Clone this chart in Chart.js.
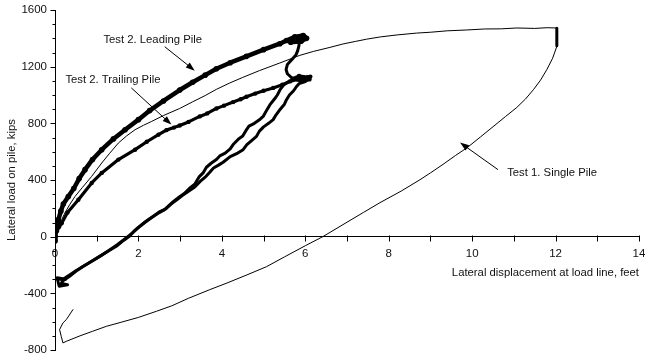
<!DOCTYPE html>
<html>
<head>
<meta charset="utf-8">
<script src="https://cdn.jsdelivr.net/npm/chart.js@4.4.0/dist/chart.umd.min.js"></script>
<style>
  html, body { margin: 0; padding: 0; background: #fff; }
</style>
</head>
<body>
<canvas id="pileChart" width="645" height="360"></canvas>
<script>
// lateral displacement (ft) vs lateral load (kips)
const xTicks = [0, 2, 4, 6, 8, 10, 12, 14];
const yTicks = [-800, -400, 0, 400, 800, 1200, 1600];

const singlePileLoad = [
  [0, 0], [0.04, 50], [0.1, 90], [0.16, 120], [0.25, 175], [0.35, 225], [0.48, 284],
  [0.65, 345], [0.88, 426], [1.12, 520], [1.3, 585], [1.52, 661], [1.72, 712],
  [1.92, 755], [2.12, 786], [2.32, 814], [2.6, 855], [2.99, 905], [3.3, 952],
  [3.6, 996], [3.87, 1040], [4.19, 1085], [4.5, 1124], [4.9, 1172], [5.39, 1226],
  [5.87, 1280], [6.2, 1308], [6.59, 1336], [6.9, 1360], [7.2, 1378], [7.47, 1394],
  [7.8, 1410], [8.2, 1424], [8.67, 1437], [9.0, 1443], [9.4, 1453], [9.87, 1459],
  [10.3, 1466], [10.7, 1467], [11.07, 1473], [11.5, 1470], [11.8, 1475], [12.02, 1473]
];
const singlePileHold = [[12.03, 1472], [12.03, 1348]];
const singlePileUnload = [
  [12.03, 1343], [11.93, 1260], [11.79, 1179], [11.64, 1105], [11.47, 1038],
  [11.28, 972], [11.07, 912], [10.8, 848], [10.5, 776], [10.2, 704], [9.88, 628],
  [9.6, 573], [9.3, 510], [9.0, 450], [8.75, 402], [8.3, 322], [7.79, 240],
  [7.4, 172], [7.0, 102], [6.42, 0], [6.0, -64], [5.5, -143], [5.07, -212],
  [4.6, -270], [4.1, -330], [3.71, -374], [3.2, -435], [2.8, -488], [2.43, -527],
  [2.0, -570], [1.6, -603], [1.23, -633], [0.9, -668], [0.6, -700], [0.27, -739],
  [0.19, -750], [0.15, -704], [0.11, -656], [0.19, -609], [0.27, -586], [0.43, -515]
];

const leadingPileLoad = [
  [0, -30], [0, 0], [0.02, 50], [0.05, 90], [0.08, 120], [0.14, 180], [0.2, 230], [0.32, 284],
  [0.45, 340], [0.58, 410], [0.72, 473], [0.9, 545], [1.12, 614], [1.4, 690],
  [1.68, 755], [2.0, 826], [2.27, 890], [2.6, 958], [2.99, 1035], [3.3, 1090],
  [3.6, 1140], [3.87, 1185], [4.2, 1228], [4.59, 1273], [5.0, 1320], [5.39, 1362],
  [5.55, 1385], [5.75, 1410], [5.95, 1420], [6.03, 1400], [5.9, 1380], [5.65, 1372],
  [5.8, 1395], [5.98, 1405], [5.85, 1390]
];
const leadingPileUnload = [
  [5.85, 1390], [5.85, 1350], [5.82, 1315], [5.78, 1285], [5.68, 1250], [5.57, 1215],
  [5.54, 1180], [5.57, 1150], [5.68, 1120], [5.7, 1105], [5.58, 1090], [5.48, 1070],
  [5.4, 1040], [5.33, 1000], [5.27, 975], [5.15, 930], [5.05, 880], [4.99, 849],
  [4.9, 825], [4.78, 800], [4.65, 780], [4.58, 750], [4.5, 710], [4.4, 690],
  [4.27, 650], [4.2, 620], [4.08, 590], [3.95, 570], [3.87, 545], [3.75, 520],
  [3.63, 490], [3.55, 450], [3.45, 420], [3.35, 370], [3.22, 340], [3.1, 305],
  [2.98, 280], [2.85, 250], [2.75, 225], [2.62, 190], [2.5, 175], [2.35, 143],
  [2.2, 112], [2.03, 73], [1.9, 40], [1.79, 5], [1.65, -25], [1.47, -68],
  [1.3, -98], [1.07, -139], [0.87, -175], [0.67, -210], [0.5, -245], [0.35, -280],
  [0.22, -305], [0.12, -300]
];

const trailingPileLoad = [
  [0, 0], [0.05, 40], [0.1, 70], [0.16, 95], [0.3, 170], [0.56, 261], [0.88, 379],
  [1.12, 450], [1.52, 544], [1.92, 614], [2.2, 670], [2.48, 720], [2.67, 752],
  [2.85, 770], [2.99, 785], [3.2, 810], [3.47, 849], [3.65, 870], [3.87, 905],
  [4.05, 925], [4.27, 950], [4.45, 970], [4.59, 988], [4.8, 1010], [5.0, 1030],
  [5.23, 1050], [5.45, 1072], [5.63, 1096], [5.8, 1110], [5.95, 1125], [6.12, 1130],
  [6.1, 1110], [5.9, 1100], [5.7, 1115], [5.85, 1135], [6.05, 1125]
];
const trailingPileUnload = [
  [6.1, 1115], [6.0, 1095], [5.85, 1080], [5.79, 1060], [5.72, 1030], [5.62, 1000],
  [5.55, 967], [5.5, 935], [5.4, 900], [5.3, 860], [5.23, 826], [5.12, 800],
  [5.0, 775], [4.9, 745], [4.83, 708], [4.72, 680], [4.6, 650], [4.51, 614],
  [4.38, 590], [4.2, 565], [4.03, 525], [3.92, 505], [3.8, 485], [3.71, 455],
  [3.6, 420], [3.48, 390], [3.35, 350], [3.2, 320], [3.05, 290], [2.92, 260],
  [2.78, 230], [2.65, 195], [2.5, 170], [2.32, 135], [2.15, 100], [2.0, 65],
  [1.85, 25], [1.7, -10], [1.5, -55], [1.3, -95], [1.1, -135], [0.9, -170],
  [0.7, -205], [0.5, -240], [0.35, -270], [0.22, -295], [0.15, -330], [0.3, -340],
  [0.1, -350], [0.05, -290], [0.25, -300]
];

// label text, where it starts, and the arrow (tail -> head), all in data units
const callouts = [
  { text: "Test 2. Leading Pile", at: [1.16, 1391], tail: [2.63, 1341], head: [3.35, 1172] },
  { text: "Test 2. Trailing Pile", at: [0.25, 1108], tail: [1.83, 1050], head: [2.79, 791] },
  { text: "Test 1. Single Pile", at: [10.84, 452], tail: [10.62, 473], head: [9.71, 664] }
];

const FONT = "Arial, 'Liberation Sans', Helvetica, sans-serif";

function toXY(pairs) {
  return pairs.map(p => ({ x: p[0], y: p[1] }));
}

function curve(pairs, width, radius) {
  return {
    data: toXY(pairs),
    showLine: true,
    borderColor: "#000",
    backgroundColor: "#000",
    borderWidth: width,
    pointRadius: radius || 0,
    pointBorderWidth: 0,
    tension: 0,
    borderJoinStyle: "round",
    borderCapStyle: "round"
  };
}

function drawArrow(ctx, x1, y1, x2, y2) {
  const ang = Math.atan2(y2 - y1, x2 - x1);
  const len = 9, half = 3.2;
  ctx.beginPath();
  ctx.moveTo(x1, y1);
  ctx.lineTo(x2 - Math.cos(ang) * len * 0.8, y2 - Math.sin(ang) * len * 0.8);
  ctx.stroke();
  ctx.beginPath();
  ctx.moveTo(x2, y2);
  ctx.lineTo(x2 - Math.cos(ang) * len - Math.sin(ang) * half, y2 - Math.sin(ang) * len + Math.cos(ang) * half);
  ctx.lineTo(x2 - Math.cos(ang) * len + Math.sin(ang) * half, y2 - Math.sin(ang) * len - Math.cos(ang) * half);
  ctx.closePath();
  ctx.fill();
}

// minor ticks on both axes plus the text callouts with arrows
const pileMarks = {
  id: "pileMarks",
  afterDraw(chart) {
    const { ctx, scales: { x, y } } = chart;
    const x0 = Math.round(x.getPixelForValue(0)) + 0.5;
    const y0 = Math.round(y.getPixelForValue(0)) + 0.5;
    ctx.save();
    ctx.strokeStyle = "#000";
    ctx.lineWidth = 1;
    ctx.beginPath();
    for (let v = y.min; v <= y.max; v += 100) {
      const py = Math.round(y.getPixelForValue(v)) + 0.5;
      const len = v % 400 === 0 ? 5 : 3;
      ctx.moveTo(x0 - len, py);
      ctx.lineTo(x0, py);
    }
    for (let v = x.min + 1; v <= x.max; v++) {
      const px = Math.round(x.getPixelForValue(v)) + 0.5;
      ctx.moveTo(px, y0 - 2);
      ctx.lineTo(px, y0 + 4);
    }
    ctx.stroke();

    ctx.fillStyle = "#111";
    ctx.font = "11.3px " + FONT;
    ctx.textAlign = "left";
    ctx.textBaseline = "middle";
    callouts.forEach(c => {
      ctx.fillText(c.text, x.getPixelForValue(c.at[0]), y.getPixelForValue(c.at[1]));
      ctx.fillStyle = "#000";
      drawArrow(ctx,
        x.getPixelForValue(c.tail[0]), y.getPixelForValue(c.tail[1]),
        x.getPixelForValue(c.head[0]), y.getPixelForValue(c.head[1]));
      ctx.fillStyle = "#111";
    });
    ctx.restore();
  }
};

const ctx = document.getElementById("pileChart").getContext("2d");
new Chart(ctx, {
  type: "scatter",
  data: {
    datasets: [
      curve(singlePileLoad, 1),
      curve(singlePileHold, 3),
      curve(singlePileUnload, 1),
      curve(leadingPileLoad, 4.5, 2.8),
      curve(leadingPileUnload, 3),
      curve(trailingPileLoad, 3.2, 2.2),
      curve(trailingPileUnload, 3)
    ]
  },
  options: {
    responsive: false,
    animation: false,
    layout: { padding: { top: 10, right: 6, bottom: 10, left: 0 } },
    plugins: {
      legend: { display: false },
      tooltip: { enabled: false }
    },
    scales: {
      x: {
        type: "linear",
        position: { y: 0 },
        min: 0,
        max: 14,
        afterBuildTicks: s => { s.ticks = xTicks.map(v => ({ value: v })); },
        afterFit: s => { s.paddingLeft = 0; s.paddingRight = 0; },
        grid: { display: false, drawTicks: false, tickLength: 0 },
        border: { display: true, color: "#000", width: 1 },
        ticks: { color: "#111", padding: 10, font: { size: 11.5, family: FONT }, callback: v => String(v) },
        title: {
          display: true,
          align: "end",
          text: "Lateral displacement at load line, feet",
          color: "#111",
          font: { size: 11.3, family: FONT },
          padding: { top: -4, bottom: 0 }
        }
      },
      y: {
        type: "linear",
        position: "left",
        min: -800,
        max: 1600,
        afterBuildTicks: s => { s.ticks = yTicks.map(v => ({ value: v })); },
        afterFit: s => { s.width = 55; s.paddingTop = 0; s.paddingBottom = 0; },
        grid: { display: false, drawTicks: false, tickLength: 0 },
        border: { display: true, color: "#000", width: 1 },
        ticks: { color: "#111", padding: 8, font: { size: 11.5, family: FONT }, callback: v => String(v) },
        title: {
          display: true,
          text: "Lateral load on pile, kips",
          color: "#111",
          font: { size: 11.3, family: FONT },
          padding: { top: 5, bottom: 0 }
        }
      }
    }
  },
  plugins: [pileMarks]
});
</script>
</body>
</html>
